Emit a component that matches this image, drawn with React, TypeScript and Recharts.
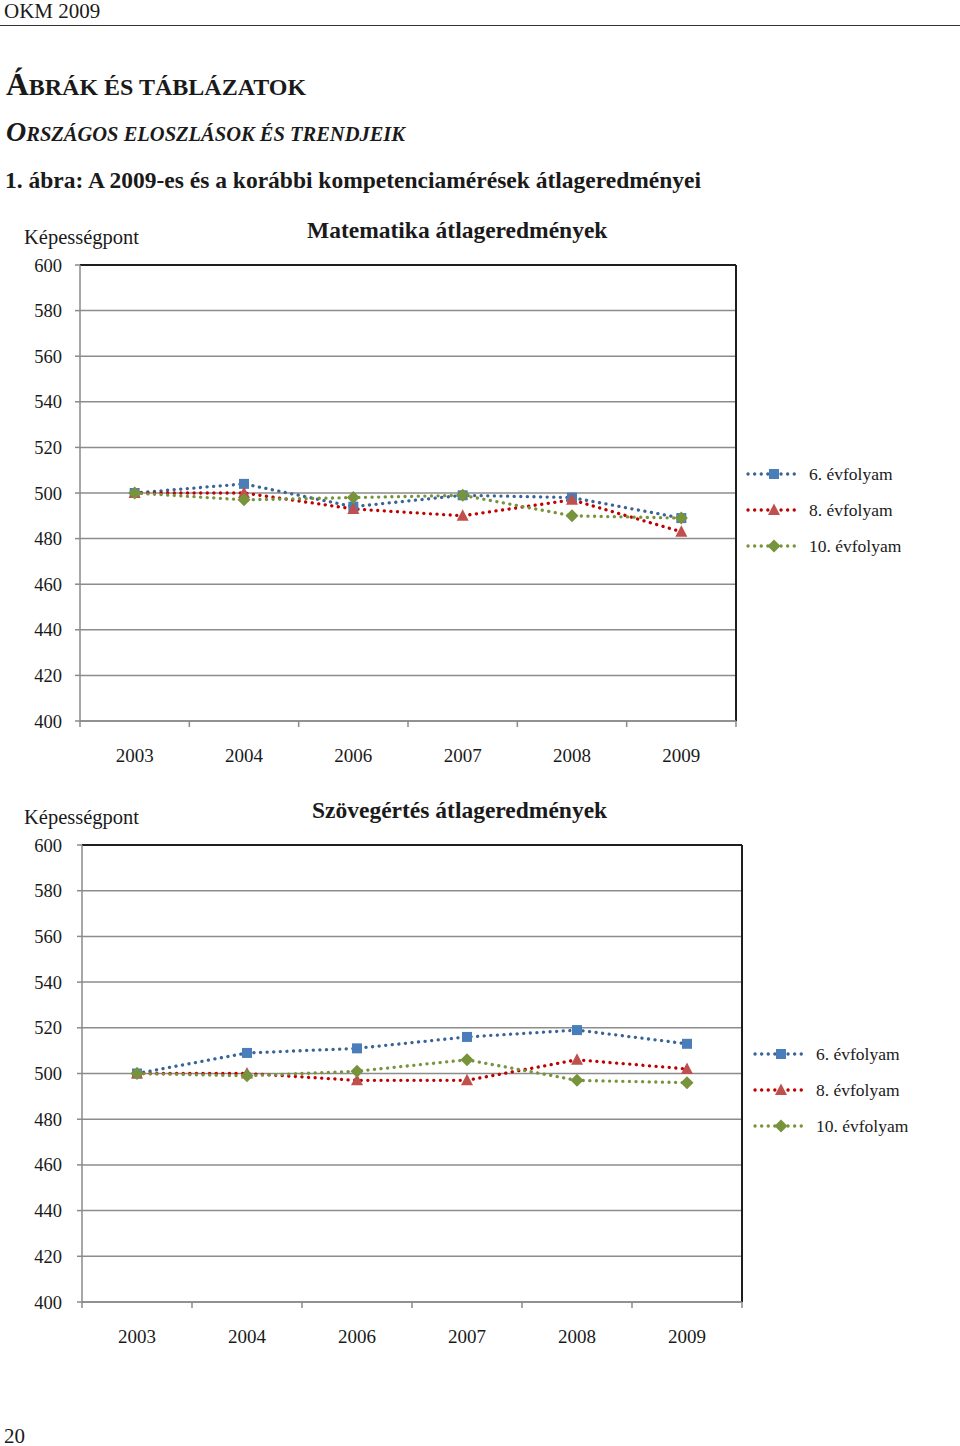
import React from 'react';
import { CartesianGrid, Legend, Line, LineChart, XAxis, YAxis } from 'recharts';

const years = ['2003', '2004', '2006', '2007', '2008', '2009'];
const yTicks = [400, 420, 440, 460, 480, 500, 520, 540, 560, 580, 600];
const grades = ['6. évfolyam', '8. évfolyam', '10. évfolyam'];

// Matematika
const math6 = [500, 504, 494, 499, 498, 489];
const math8 = [500, 500, 493, 490, 497, 483];
const math10 = [500, 497, 498, 499, 490, 489];

// Szövegértés
const read6 = [500, 509, 511, 516, 519, 513];
const read8 = [500, 500, 497, 497, 506, 502];
const read10 = [500, 499, 501, 506, 497, 496];

const FONT = '"Liberation Serif", "DejaVu Serif", serif';

const buildRows = (g6: number[], g8: number[], g10: number[]) =>
    years.map((year, i) => ({ year, g6: g6[i], g8: g8[i], g10: g10[i] }));

const series = [
    { key: 'g6', name: grades[0], line: '#3a6496', fill: '#4a7ebb', shape: 'square' },
    { key: 'g8', name: grades[1], line: '#c00000', fill: '#c0504d', shape: 'triangle' },
    { key: 'g10', name: grades[2], line: '#77933c', fill: '#77933c', shape: 'diamond' },
];

const Marker = ({ cx, cy, shape, fill }: { cx: number; cy: number; shape: string; fill: string }) => {
    if (cx == null || cy == null) return null;
    if (shape === 'square') {
        return <rect x={cx - 5} y={cy - 5} width={10} height={10} fill={fill} />;
    }
    if (shape === 'triangle') {
        return (
            <polygon
                points={`${cx},${cy - 6.5} ${cx + 6},${cy + 5} ${cx - 6},${cy + 5}`}
                fill={fill}
            />
        );
    }
    return (
        <polygon
            points={`${cx},${cy - 6.5} ${cx + 6.5},${cy} ${cx},${cy + 6.5} ${cx - 6.5},${cy}`}
            fill={fill}
        />
    );
};

const TICK_SIZE = 6;
const TICK_MARGIN = 20;

// Excel style: tick marks sit between the categories, labels in the middle
const YearTick = (props: any) => {
    const { x, y, payload, index, band, count } = props;
    const axisY = y - TICK_SIZE - TICK_MARGIN;
    const left = x - band / 2;
    return (
        <g>
            <line x1={left} x2={left} y1={axisY} y2={axisY + 6} stroke="#8a8a8a" strokeWidth={1.5} />
            {index === count - 1 && (
                <line x1={x + band / 2} x2={x + band / 2} y1={axisY} y2={axisY + 6} stroke="#8a8a8a" strokeWidth={1.5} />
            )}
            <text x={x} y={axisY + 41} textAnchor="middle" fontSize={19} fill="#1a1a1a" fontFamily={FONT}>
                {payload.value}
            </text>
        </g>
    );
};

const LegendContent = () => (
    <div style={{ fontFamily: FONT, fontSize: 17.5, color: '#1a1a1a' }}>
        {series.map((s) => (
            <div key={s.key} style={{ display: 'flex', alignItems: 'center', height: 36 }}>
                <svg width={58} height={16} style={{ marginRight: 6 }}>
                    <line
                        x1={3}
                        x2={55}
                        y1={8}
                        y2={8}
                        stroke={s.line}
                        strokeWidth={3.3}
                        strokeDasharray="0.1 6.5"
                        strokeLinecap="round"
                    />
                    <Marker cx={29} cy={8} shape={s.shape} fill={s.fill} />
                </svg>
                <span>{s.name}</span>
            </div>
        ))}
    </div>
);

interface ScoreChartProps {
    title: string;
    rows: ReturnType<typeof buildRows>;
    top: number;
    plotLeft: number;
    plotRight: number;
    plotHeight: number;
    titleLeft: number;
    legendLeft: number;
}

const CHART_H = 545;
const PLOT_TOP = 20;

const ScoreChart: React.FC<ScoreChartProps> = ({ title, rows, top, plotLeft, plotRight, plotHeight, titleLeft, legendLeft }) => {
    const band = (plotRight - plotLeft) / years.length;
    return (
        <>
            <div style={{ position: 'absolute', left: 24, top: top - 19, fontSize: 20.5, fontFamily: FONT, color: '#1a1a1a' }}>
                Képességpont
            </div>
            <div
                style={{
                    position: 'absolute',
                    left: titleLeft,
                    top: top - 28,
                    fontSize: 23.5,
                    fontWeight: 'bold',
                    fontFamily: FONT,
                    color: '#1a1a1a',
                    whiteSpace: 'nowrap',
                }}
            >
                {title}
            </div>
            <div style={{ position: 'absolute', left: 0, top, width: 960, height: CHART_H, fontFamily: FONT }}>
                <LineChart
                    width={960}
                    height={CHART_H}
                    data={rows}
                    margin={{ top: PLOT_TOP, right: 960 - plotRight, bottom: 0, left: 0 }}
                >
                    <CartesianGrid vertical={false} stroke="#8c8c8c" strokeWidth={1.5} />
                    <CartesianGrid
                        stroke="#1e1e1e"
                        strokeWidth={2}
                        horizontalCoordinatesGenerator={({ offset }: any) => [offset.top]}
                        verticalCoordinatesGenerator={({ offset }: any) => [offset.left + offset.width]}
                    />
                    <XAxis
                        dataKey="year"
                        scale="band"
                        height={CHART_H - PLOT_TOP - plotHeight}
                        axisLine={{ stroke: '#8a8a8a', strokeWidth: 1.5 }}
                        tickLine={false}
                        tickSize={TICK_SIZE}
                        tickMargin={TICK_MARGIN}
                        interval={0}
                        tick={(p: any) => <YearTick {...p} band={band} count={years.length} />}
                    />
                    <YAxis
                        width={plotLeft}
                        domain={[400, 600]}
                        ticks={yTicks}
                        interval={0}
                        axisLine={{ stroke: '#8a8a8a', strokeWidth: 1.5 }}
                        tickLine={{ stroke: '#8a8a8a', strokeWidth: 1.5 }}
                        tickSize={5}
                        tickMargin={plotLeft - 80 + 13}
                        tick={{ fontSize: 18.5, fill: '#1a1a1a', fontFamily: FONT }}
                    />
                    <Legend
                        layout="horizontal"
                        verticalAlign="middle"
                        content={<LegendContent />}
                        wrapperStyle={{ left: legendLeft, top: 211, width: 200, height: 108 }}
                    />
                    {series.map((s) => (
                        <Line
                            key={s.key}
                            dataKey={s.key}
                            name={s.name}
                            type="linear"
                            stroke={s.line}
                            strokeWidth={3.3}
                            strokeDasharray="0.1 6.5"
                            strokeLinecap="round"
                            isAnimationActive={false}
                            dot={(p: any) => <Marker key={`${s.key}-${p.index}`} cx={p.cx} cy={p.cy} shape={s.shape} fill={s.fill} />}
                            activeDot={false}
                        />
                    ))}
                </LineChart>
            </div>
        </>
    );
};

export default function App() {
    return (
        <div style={{ position: 'absolute', left: 0, top: 0, width: 960, height: 1446, background: '#fff', fontFamily: FONT, color: '#1a1a1a' }}>
            <div style={{ position: 'absolute', left: 4, top: -1, fontSize: 21 }}>OKM 2009</div>
            <div style={{ position: 'absolute', left: 0, top: 25, width: 960, height: 0, borderTop: '1.5px solid #333' }} />
            <div style={{ position: 'absolute', left: 6, top: 67, fontWeight: 'bold', whiteSpace: 'nowrap' }}>
                <span style={{ fontSize: 31.5 }}>Á</span>
                <span style={{ fontSize: 24 }}>BRÁK ÉS TÁBLÁZATOK</span>
            </div>
            <div style={{ position: 'absolute', left: 6, top: 116, fontWeight: 'bold', fontStyle: 'italic', whiteSpace: 'nowrap' }}>
                <span style={{ fontSize: 28 }}>O</span>
                <span style={{ fontSize: 20.5 }}>RSZÁGOS ELOSZLÁSOK ÉS TRENDJEIK</span>
            </div>
            <div style={{ position: 'absolute', left: 5, top: 167, fontWeight: 'bold', fontSize: 23.5, whiteSpace: 'nowrap' }}>
                1. ábra: A 2009-es és a korábbi kompetenciamérések átlageredményei
            </div>

            <ScoreChart
                title="Matematika átlageredmények"
                rows={buildRows(math6, math8, math10)}
                top={245}
                plotLeft={80}
                plotRight={736}
                plotHeight={456}
                titleLeft={307}
                legendLeft={745}
            />
            <ScoreChart
                title="Szövegértés átlageredmények"
                rows={buildRows(read6, read8, read10)}
                top={825}
                plotLeft={82}
                plotRight={742}
                plotHeight={457}
                titleLeft={312}
                legendLeft={752}
            />

            <div style={{ position: 'absolute', left: 4, top: 1424, fontSize: 21 }}>20</div>
        </div>
    );
}
